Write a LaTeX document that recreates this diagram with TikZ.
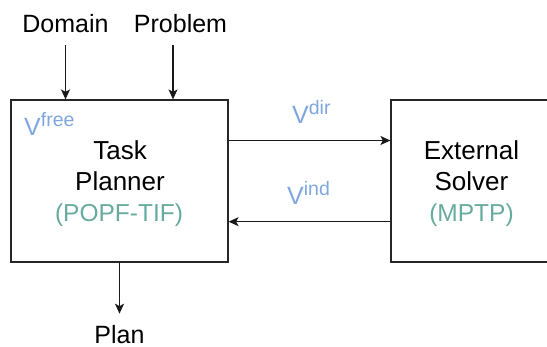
\documentclass[tikz,border=0pt]{standalone}
\usepackage{fontspec}
\setmainfont{Liberation Sans}
\usetikzlibrary{arrows.meta}
\definecolor{vblue}{HTML}{7EA6E0}
\definecolor{tgreen}{HTML}{67AB9F}
\newcommand{\vlab}[1]{{\fontsize{25}{25}\selectfont V}\raisebox{9pt}{\fontsize{19.5}{19.5}\selectfont #1}}
\tikzset{
  box/.style={draw=black!85, line width=1.2pt, minimum height=162pt, inner sep=0pt},
  txt/.style={anchor=base, inner sep=0pt, font=\fontsize{26}{30}\selectfont},
  sub/.style={anchor=base, inner sep=0pt, text=tgreen, font=\fontsize{24.5}{30}\selectfont},
  io/.style={anchor=base, inner sep=0pt, font=\fontsize{25}{30}\selectfont},
  vl/.style={anchor=base west, inner sep=0pt, text=vblue},
  arr/.style={line width=1.2pt, draw=black!90, -{Stealth[length=10pt,width=9pt,inset=2.5pt]}}
}
\begin{document}
\begin{tikzpicture}[x=1pt,y=-1pt]
\useasboundingbox (0,0) rectangle (547,347);
\clip (0,0) rectangle (547,347);
% boxes
\node[box, minimum width=217pt] (tp) at (119.5,181) {};
\node[box, minimum width=161pt] (es) at (471.5,181) {};
% box texts
\node[txt] (tp1) at (120,159.5) {Task};
\node[txt] (tp2) at (120,191) {Planner};
\node[sub] (tp3) at (119,222) {(POPF-TIF)};
\node[txt] (es1) at (471.5,159.5) {External};
\node[txt] (es2) at (471.5,191) {Solver};
\node[sub] (es3) at (471.5,222) {(MPTP)};
% inputs / output
\node[io] (dom) at (65.5,33) {Domain};
\node[io] (prob) at (180.5,33) {Problem};
\node[io] (plan) at (119.5,344) {Plan};
\draw[arr, shorten <=12pt] (dom.south) -- (dom.south |- tp.north);
\draw[arr, shorten <=12pt] ([xshift=-7.5pt]prob.south) -- ([xshift=-7.5pt]prob.south |- tp.north);
\draw[arr, shorten >=12pt] (tp.south) -- (tp.south |- plan.north);
% box connectors
\draw[arr] ([yshift=40.5pt]tp.east) -- ([yshift=40.5pt]tp.east -| es.west);
\draw[arr] ([yshift=-40.7pt]es.west) -- ([yshift=-40.7pt]es.west -| tp.east);
% variable labels
\node[vl] (vfree) at (24,136) {\vlab{free}};
\node[vl] (vdir) at (292,123.5) {\vlab{dir}};
\node[vl] (vind) at (287,205) {\vlab{ind}};
\end{tikzpicture}
\end{document}
